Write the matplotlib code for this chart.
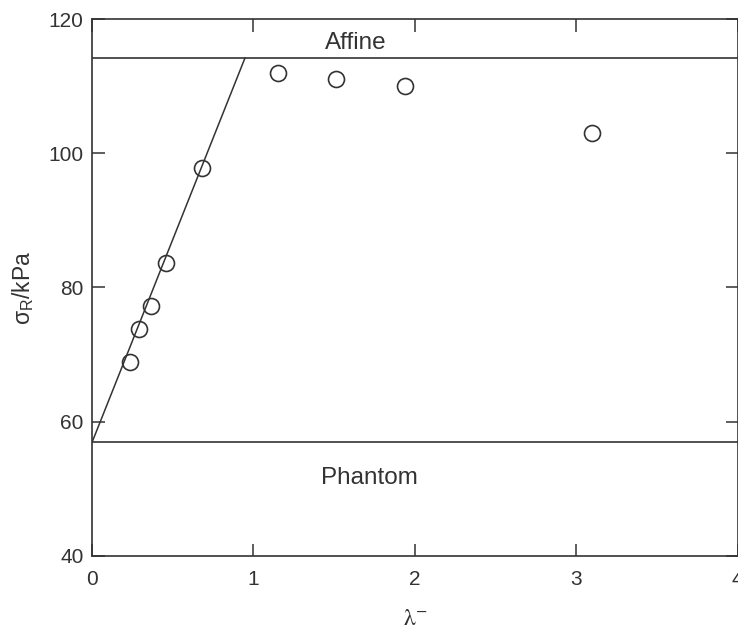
import numpy as np
import matplotlib
matplotlib.use("Agg")
import matplotlib.pyplot as plt

plt.rcParams['font.family'] = ['Liberation Sans', 'DejaVu Sans']
plt.rcParams['mathtext.fontset'] = 'custom'
plt.rcParams['mathtext.rm'] = 'Liberation Sans'
plt.rcParams['mathtext.it'] = 'Liberation Sans:italic'

# measured points
lam = [0.237, 0.293, 0.363, 0.458, 0.679, 1.154, 1.511, 1.938, 3.10]
sigma = [68.9, 73.8, 77.3, 83.7, 97.75, 112.05, 111.1, 110.0, 103.0]

# model limits and low-strain fit line
affine = 114.2
phantom = 56.9
fit_x = [0.0, 0.947]
fit_y = [56.9, 114.2]

ink = '#333333'

fig = plt.figure(figsize=(7.38, 6.32), dpi=100)
ax = fig.add_axes([0.1247, 0.1207, 0.875, 0.8488])

ax.axhline(affine, color=ink, lw=1.2)
ax.axhline(phantom, color=ink, lw=1.2)
ax.plot(fit_x, fit_y, color=ink, lw=1.1)
ax.plot(lam, sigma, 'o', ms=11.5, mfc='none', mec=ink, mew=1.2)

ax.text(1.635, 116.5, 'Affine', fontsize=17.5, color=ink, ha='center', va='center')
ax.text(1.72, 51.6, 'Phantom', fontsize=17.5, color=ink, ha='center', va='center')

ax.set_xlim(0, 4)
ax.set_ylim(40, 120)
ax.set_xticks([0, 1, 2, 3, 4])
ax.set_yticks([40, 60, 80, 100, 120])
ax.tick_params(direction='in', length=9, width=1.1, color=ink, labelcolor=ink,
               labelsize=15, top=True, right=True)
ax.tick_params(axis='y', pad=6)
ax.tick_params(axis='x', pad=10)
for s in ax.spines.values():
    s.set_color(ink)
    s.set_linewidth(1.2)

ax.set_ylabel(r'σ$_\mathrm{R}$/kPa', fontsize=16.5, color=ink, labelpad=9)
ax.set_xlabel(r'$\mathrm{\lambda}^{-}$', fontsize=17, color=ink, labelpad=14,
              math_fontfamily='stix')

fig.savefig('out.png', dpi=100)
